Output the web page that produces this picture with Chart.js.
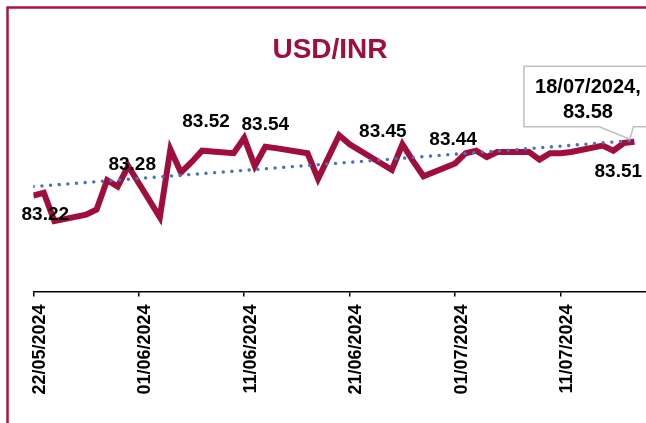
<!DOCTYPE html>
<html>
<head>
<meta charset="utf-8">
<script src="https://cdn.jsdelivr.net/npm/chart.js@4.4.1/dist/chart.umd.min.js"></script>
<style>
  html, body { margin: 0; padding: 0; background: #fff; }
  #wrap { width: 646px; height: 423px; }
</style>
</head>
<body>
<div id="wrap"><canvas id="usdInrChart" width="646" height="423"></canvas></div>
<script>
// USD/INR daily rate (trading days only)
const tradeDates = [
  '2024-05-22', '2024-05-23', '2024-05-24', '2024-05-27', '2024-05-28', '2024-05-29', '2024-05-30', '2024-05-31',
  '2024-06-03', '2024-06-04', '2024-06-05', '2024-06-06', '2024-06-07', '2024-06-10', '2024-06-11', '2024-06-12',
  '2024-06-13', '2024-06-14', '2024-06-17', '2024-06-18', '2024-06-19', '2024-06-20', '2024-06-21', '2024-06-24',
  '2024-06-25', '2024-06-26', '2024-06-27', '2024-06-28', '2024-07-01', '2024-07-02', '2024-07-03', '2024-07-04',
  '2024-07-05', '2024-07-08', '2024-07-09', '2024-07-10', '2024-07-11', '2024-07-12', '2024-07-15', '2024-07-16',
  '2024-07-17', '2024-07-18'
];
const usdInr = [
  83.16, 83.18, 82.96, 83.01, 83.05, 83.28, 83.23, 83.39,
  82.99, 83.52, 83.34, 83.42, 83.51, 83.49, 83.61, 83.39,
  83.54, 83.53, 83.49, 83.29, 83.46, 83.63, 83.56, 83.41,
  83.36, 83.56, 83.43, 83.31, 83.41, 83.49, 83.51, 83.46,
  83.50, 83.50, 83.44, 83.49, 83.49, 83.50, 83.55, 83.51,
  83.57, 83.58
];

// linear trend line, start and end
const trendDates = ['2024-05-22', '2024-07-18'];
const trendValues = [83.23, 83.59];

// x axis ticks
const tickDates = ['2024-05-22', '2024-06-01', '2024-06-11', '2024-06-21', '2024-07-01', '2024-07-11'];
const tickLabels = ['22/05/2024', '01/06/2024', '11/06/2024', '21/06/2024', '01/07/2024', '11/07/2024'];

// data labels
const labelDates = ['2024-05-22', '2024-05-31', '2024-06-07', '2024-06-13', '2024-06-26', '2024-07-01', '2024-07-16'];
const labelTexts = ['83.22', '83.28', '83.52', '83.54', '83.45', '83.44', '83.51'];
const calloutDate = '2024-07-18';
const calloutLines = ['18/07/2024,', '83.58'];

// label placement (dx = centre, dy = baseline) relative to the point
const labelOffsets = [[12, 25], [4, 4], [4, -23.5], [0, -17], [-19.5, -7], [-2, -18], [5, 26]];

const startMs = Date.parse(tradeDates[0]);
function dayOf(s) {
  return (Date.parse(s) - startMs) / 86400000;
}
const tickDays = tickDates.map(dayOf);

const FONT = '"Liberation Sans", Arial, sans-serif';
const LINE_RED = '#A20E3C';

const decorPlugin = {
  id: 'decor',
  beforeDraw(chart) {
    const ctx = chart.ctx;
    ctx.save();
    ctx.fillStyle = '#fff';
    ctx.fillRect(0, 0, chart.width, chart.height);
    // slide frame
    ctx.strokeStyle = '#B01240';
    ctx.lineWidth = 2.5;
    ctx.beginPath();
    ctx.moveTo(7.5, chart.height);
    ctx.lineTo(7.5, 7.5);
    ctx.lineTo(chart.width, 7.5);
    ctx.stroke();
    // title
    ctx.fillStyle = '#9E1039';
    ctx.font = 'bold 28px ' + FONT;
    ctx.textAlign = 'center';
    ctx.textBaseline = 'alphabetic';
    ctx.fillText('USD/INR', 330, 58);
    ctx.restore();
  },
  afterDatasetsDraw(chart) {
    const ctx = chart.ctx;
    const xs = chart.scales.x;
    const ys = chart.scales.y;
    ctx.save();
    ctx.fillStyle = '#000';
    ctx.font = 'bold 19px ' + FONT;
    ctx.textAlign = 'center';
    ctx.textBaseline = 'alphabetic';
    labelDates.forEach((d, i) => {
      const idx = tradeDates.indexOf(d);
      const px = xs.getPixelForValue(dayOf(d));
      const py = ys.getPixelForValue(usdInr[idx]);
      ctx.fillText(labelTexts[i], px + labelOffsets[i][0], py + labelOffsets[i][1]);
    });

    // callout for the last point
    const cx = xs.getPixelForValue(dayOf(calloutDate));
    const cy = ys.getPixelForValue(usdInr[tradeDates.indexOf(calloutDate)]);
    const left = cx - 110.5, right = cx + 30, top = cy - 75.5, bottom = cy - 15;
    ctx.beginPath();
    ctx.moveTo(right, top);
    ctx.lineTo(left, top);
    ctx.lineTo(left, bottom);
    ctx.lineTo(cx - 35, bottom);
    ctx.lineTo(cx - 4.5, cy - 2.5);
    ctx.lineTo(cx - 1, bottom);
    ctx.lineTo(right, bottom);
    ctx.closePath();
    ctx.fillStyle = '#fff';
    ctx.fill();
    ctx.strokeStyle = '#BFBFBF';
    ctx.lineWidth = 1.5;
    ctx.stroke();
    ctx.fillStyle = '#000';
    ctx.font = 'bold 20px ' + FONT;
    ctx.fillText(calloutLines[0], cx - 46.5, cy - 48.5);
    ctx.fillText(calloutLines[1], cx - 46.5, cy - 23.5);
    ctx.restore();
  }
};

const ctx = document.getElementById('usdInrChart').getContext('2d');
const usdInrChart = new Chart(ctx, {
  type: 'line',
  data: {
    datasets: [
      {
        label: 'Linear trend',
        data: trendDates.map((d, i) => ({ x: dayOf(d), y: trendValues[i] })),
        borderColor: '#4472C4',
        borderWidth: 3.4,
        borderDash: [0.01, 8.65],
        borderCapStyle: 'round',
        pointRadius: 0,
        fill: false
      },
      {
        label: 'USD/INR',
        data: tradeDates.map((d, i) => ({ x: dayOf(d), y: usdInr[i] })),
        borderColor: LINE_RED,
        borderWidth: 6,
        pointRadius: 0,
        tension: 0,
        fill: false
      }
    ]
  },
  options: {
    responsive: false,
    animation: false,
    devicePixelRatio: 1,
    layout: { padding: { left: 33.3, top: 70, right: 0, bottom: 0 } },
    plugins: {
      legend: { display: false },
      tooltip: { enabled: false },
      title: { display: false }
    },
    scales: {
      x: {
        type: 'linear',
        min: 0,
        max: 58.1,
        afterBuildTicks: scale => {
          scale.ticks = tickDays.map(v => ({ value: v }));
        },
        afterFit: scale => {
          scale.height = 131.5;
        },
        ticks: {
          autoSkip: false,
          minRotation: 90,
          maxRotation: 90,
          padding: 8,
          labelOffset: 6.5,
          color: '#000',
          font: { family: FONT, size: 18, weight: 'bold' },
          callback: value => {
            const i = tickDays.indexOf(value);
            return i >= 0 ? tickLabels[i] : '';
          }
        },
        grid: {
          drawOnChartArea: false,
          drawTicks: true,
          tickLength: 5,
          color: '#000',
          lineWidth: 1.5
        },
        border: { display: true, color: '#000', width: 1.5 }
      },
      y: {
        display: false,
        min: 82.41,
        max: 84.14
      }
    }
  },
  plugins: [decorPlugin]
});
</script>
</body>
</html>
